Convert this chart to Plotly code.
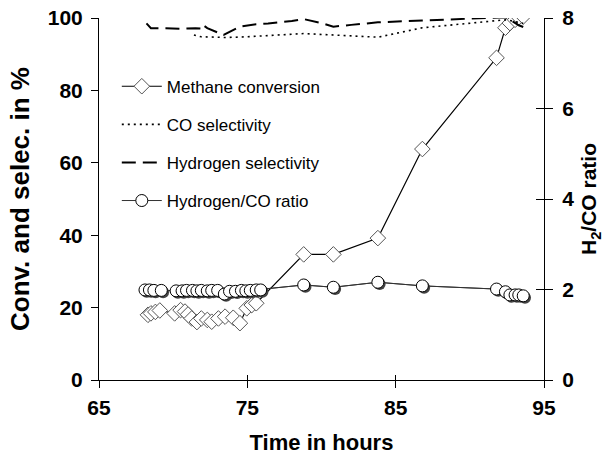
import plotly.graph_objects as go

# ---------------- data ----------------
hours_conv = [68.3, 68.5, 68.8, 69.1,
              70.1, 70.5, 70.8, 71.0, 71.25, 71.6, 71.9, 72.3, 72.6, 73.05, 73.5, 74.05, 74.5,
              74.96, 75.3, 75.6,
              78.8, 80.8, 83.8, 86.8, 91.8, 92.4, 92.7, 93.05, 93.3, 93.6]
methane_conv = [18.0, 18.4, 18.8, 19.2,
                18.4, 19.3, 18.9, 18.1, 17.0, 16.0, 17.0, 16.6, 16.1, 17.0, 17.5, 17.2, 15.7,
                19.8, 20.7, 21.2,
                34.7, 34.7, 39.2, 63.8, 89.0, 97.3, 98.6, 99.5, 100.2, 100.4]

hours_co = [71.4, 71.9, 73.0, 73.5, 74.9, 75.9, 76.5, 78.8, 80.8, 83.8, 86.8, 91.8,
            92.4, 92.7, 93.05, 93.3, 93.6]
co_selectivity = [95.3, 94.8, 94.7, 94.6, 94.8, 95.0, 95.3, 95.7, 95.3, 94.7, 97.3, 99.2,
                  99.5, 99.3, 99.0, 98.8, 98.5]

hours_h2 = [68.2, 68.5, 69.5, 70.5, 71.5, 71.9, 72.0, 72.3, 73.4, 74.5, 75.6, 76.4, 78.0,
            78.8, 80.0, 80.8, 82.0, 83.8, 86.8, 91.8, 92.4, 92.7, 93.05, 93.3, 93.6]
h2_selectivity = [98.5, 97.2, 97.2, 97.0, 97.2, 97.1, 98.1, 97.2, 95.3, 97.6, 98.3, 98.5, 99.2,
                  99.7, 98.6, 97.6, 98.1, 98.8, 99.3, 100.0, 100.2, 99.5, 98.5, 98.0, 97.5]

hours_ratio = [68.1, 68.4, 68.7, 69.2,
               70.2, 70.6, 70.9, 71.3, 71.6, 71.9, 72.3, 72.6, 73.0,
               73.45,
               73.8, 74.2, 74.6, 74.9, 75.2, 75.6, 75.9,
               78.8, 80.8, 83.8, 86.8, 91.8, 92.4, 92.7, 93.05, 93.3, 93.6]
h2_co_ratio = [1.99, 1.99, 1.98, 1.98,
               1.97, 1.97, 1.98, 1.98, 1.97, 1.98, 1.97, 1.98, 1.98,
               1.90,
               1.96, 1.96, 1.98, 1.97, 1.98, 1.99, 1.99,
               2.10, 2.05, 2.16, 2.08, 2.01, 1.95, 1.88, 1.88, 1.88, 1.86]

x_ticks = [65, 75, 85, 95]
y_ticks = [0, 20, 40, 60, 80, 100]
y2_ticks = [0, 2, 4, 6, 8]

# shadow offset for the circle markers (style only)
SHADOW_DX, SHADOW_DY = 0.12, -0.04

FONT = "Liberation Sans, Arial, sans-serif"

fig = go.Figure()

fig.add_trace(go.Scatter(
    x=hours_conv, y=methane_conv, name="Methane conversion", legendgroup="a",
    mode="lines+markers",
    line=dict(color="black", width=1.2),
    marker=dict(symbol="diamond", size=12, color="white", line=dict(color="#555555", width=1)),
))
fig.add_trace(go.Scatter(
    x=hours_co, y=co_selectivity, name="CO selectivity", legendgroup="b",
    mode="lines",
    line=dict(color="black", width=1.6, dash="2px,4px"),
))
fig.add_trace(go.Scatter(
    x=hours_h2, y=h2_selectivity, name="Hydrogen selectivity", legendgroup="c",
    mode="lines",
    line=dict(color="black", width=2, dash="14px,7px"),
))
fig.add_trace(go.Scatter(
    x=hours_ratio, y=h2_co_ratio, name="Hydrogen/CO ratio", legendgroup="d",
    mode="lines",
    line=dict(color="#333333", width=1),
    yaxis="y2", showlegend=False, hoverinfo="skip",
))
fig.add_trace(go.Scatter(
    x=[h + SHADOW_DX for h in hours_ratio], y=[r + SHADOW_DY for r in h2_co_ratio],
    mode="markers", legendgroup="d", showlegend=False, hoverinfo="skip",
    marker=dict(symbol="circle", size=12, color="#444444", line=dict(width=0)),
    yaxis="y2",
))
fig.add_trace(go.Scatter(
    x=hours_ratio, y=h2_co_ratio, name="Hydrogen/CO ratio", legendgroup="d",
    mode="lines+markers",
    line=dict(color="#333333", width=1),
    marker=dict(symbol="circle", size=12, color="white", line=dict(color="black", width=1)),
    yaxis="y2",
))
# empty helper traces so the crossing-tick overlay axes are drawn
fig.add_trace(go.Scatter(x=[], y=[], xaxis="x2", yaxis="y", showlegend=False))
fig.add_trace(go.Scatter(x=[], y=[], xaxis="x", yaxis="y3", showlegend=False))

tickfont = dict(family=FONT, size=21, color="black", weight="bold")

fig.update_layout(
    width=607, height=467,
    margin=dict(l=99, r=63, t=18, b=87),
    paper_bgcolor="white", plot_bgcolor="white",
    font=dict(family=FONT, color="black"),
    showlegend=True,
    legend=dict(
        x=0.04, y=0.86, xanchor="left", yanchor="top",
        bgcolor="rgba(0,0,0,0)", borderwidth=0,
        font=dict(family=FONT, size=17, color="black"),
        traceorder="grouped", tracegroupgap=13, itemwidth=40,
    ),
    xaxis=dict(
        range=[65, 95], tickvals=x_ticks, showgrid=False, zeroline=False,
        showline=True, linecolor="black", linewidth=1, automargin=False,
        ticks="outside", ticklen=7, tickcolor="black",
        tickfont=tickfont, ticklabelstandoff=2,
        title=dict(text="Time in hours", font=dict(family=FONT, size=22, weight="bold"), standoff=16),
    ),
    xaxis2=dict(
        range=[65, 95], tickvals=x_ticks, overlaying="x", anchor="y", side="bottom",
        showgrid=False, zeroline=False, showline=False, showticklabels=False, automargin=False,
        ticks="inside", ticklen=5, tickcolor="black",
    ),
    yaxis=dict(
        range=[0, 100], tickvals=y_ticks, showgrid=False, zeroline=False,
        showline=True, linecolor="black", linewidth=1, automargin=False,
        ticks="outside", ticklen=7, tickcolor="black",
        tickfont=tickfont, ticklabelstandoff=4,
        title=dict(text="Conv. and selec. in %", font=dict(family=FONT, size=26, weight="bold"), standoff=10),
    ),
    yaxis2=dict(
        range=[0, 8], tickvals=y2_ticks, overlaying="y", side="right", anchor="x",
        showgrid=False, zeroline=False, automargin=False,
        showline=True, linecolor="black", linewidth=1,
        ticks="outside", ticklen=8, tickcolor="black",
        tickfont=tickfont, ticklabelstandoff=5,
        title=dict(text="H<sub>2</sub>/CO ratio", font=dict(family=FONT, size=21, weight="bold"), standoff=8),
    ),
    yaxis3=dict(
        range=[0, 8], tickvals=y2_ticks, overlaying="y", side="right", anchor="x",
        showgrid=False, zeroline=False, showline=False, showticklabels=False, automargin=False,
        ticks="inside", ticklen=8, tickcolor="black",
    ),
)

fig.write_html("out.html")
